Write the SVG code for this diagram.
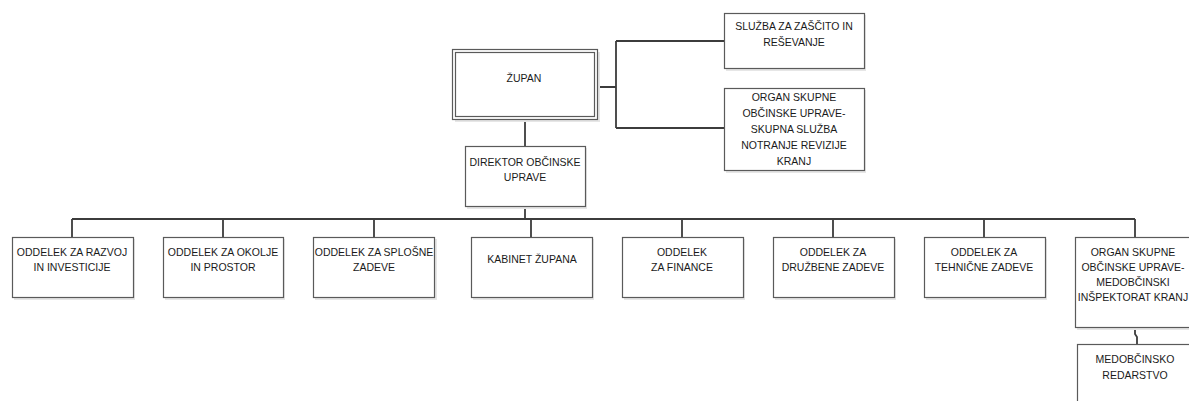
<svg xmlns="http://www.w3.org/2000/svg" width="1189" height="401" viewBox="0 0 1189 401">
<style>
.box{fill:#ffffff;stroke:#5a5a5a;stroke-width:1.2}
.sh{fill:#e6e6e6;stroke:none}
.t{font-family:"Liberation Sans",Arial,sans-serif;font-size:10.5px;fill:#1a1a1a;text-anchor:middle}
.c{fill:none;stroke:#3c3c3c;stroke-width:1.8}
</style>
<rect width="1189" height="401" fill="#ffffff"/>
<g id="connectors">
<path class="c" d="M597 87 H616 M616 41 V128 M616 41 H724 M616 128 H724"/>
<path class="c" d="M525 119 V146"/>
<path class="c" d="M525 206 V219 M72 219 H1135 M72 219 V237 M223 219 V237 M374 219 V237 M531 219 V237 M682 219 V237 M833 219 V237 M984 219 V237 M1135 219 V237"/>
<path class="c" d="M1135 327 V334 L1137 337 V344"/>
</g>
<g id="zupan">
<rect class="sh" x="455" y="52" width="145" height="70"/>
<rect class="box" x="452.5" y="49.5" width="145" height="70"/>
<rect class="box" x="455.5" y="52.5" width="139" height="64"/>
<text class="t" x="524" y="82">ŽUPAN</text>
</g>
<g id="sluzba">
<rect class="sh" x="726" y="15" width="140" height="56"/>
<rect class="box" x="724.5" y="13.5" width="140" height="55"/>
<text class="t" x="794" y="30">SLUŽBA ZA ZAŠČITO IN</text>
<text class="t" x="794" y="46">REŠEVANJE</text>
</g>
<g id="organ-revizija">
<rect class="sh" x="726" y="90" width="140" height="83"/>
<rect class="box" x="724.5" y="88.5" width="140" height="82"/>
<text class="t" x="794" y="101">ORGAN SKUPNE</text>
<text class="t" x="794" y="117">OBČINSKE UPRAVE-</text>
<text class="t" x="794" y="133">SKUPNA SLUŽBA</text>
<text class="t" x="794" y="149">NOTRANJE REVIZIJE</text>
<text class="t" x="794" y="165">KRANJ</text>
</g>
<g id="direktor">
<rect class="sh" x="467" y="148" width="120" height="61"/>
<rect class="box" x="465.5" y="146.5" width="120" height="60"/>
<text class="t" x="525" y="166">DIREKTOR OBČINSKE</text>
<text class="t" x="525" y="181">UPRAVE</text>
</g>
<g id="razvoj">
<rect class="sh" x="14" y="239" width="121" height="61"/>
<rect class="box" x="12.5" y="237.5" width="121" height="60"/>
<text class="t" x="72" y="256">ODDELEK ZA RAZVOJ</text>
<text class="t" x="72" y="271">IN INVESTICIJE</text>
</g>
<g id="okolje">
<rect class="sh" x="165" y="239" width="120" height="61"/>
<rect class="box" x="163.5" y="237.5" width="120" height="60"/>
<text class="t" x="223" y="256">ODDELEK ZA OKOLJE</text>
<text class="t" x="223" y="271">IN PROSTOR</text>
</g>
<g id="splosne">
<rect class="sh" x="315" y="239" width="122" height="61"/>
<rect class="box" x="313.5" y="237.5" width="121" height="60"/>
<text class="t" x="374" y="256">ODDELEK ZA SPLOŠNE</text>
<text class="t" x="374" y="271">ZADEVE</text>
</g>
<g id="kabinet">
<rect class="sh" x="473" y="239" width="121" height="61"/>
<rect class="box" x="471.5" y="237.5" width="121" height="60"/>
<text class="t" x="532" y="263">KABINET ŽUPANA</text>
</g>
<g id="finance">
<rect class="sh" x="624" y="239" width="121" height="61"/>
<rect class="box" x="622.5" y="237.5" width="121" height="60"/>
<text class="t" x="682" y="256">ODDELEK</text>
<text class="t" x="682" y="271">ZA FINANCE</text>
</g>
<g id="druzbene">
<rect class="sh" x="775" y="239" width="121" height="61"/>
<rect class="box" x="773.5" y="237.5" width="121" height="60"/>
<text class="t" x="833" y="256">ODDELEK ZA</text>
<text class="t" x="833" y="271">DRUŽBENE ZADEVE</text>
</g>
<g id="tehnicne">
<rect class="sh" x="926" y="239" width="121" height="61"/>
<rect class="box" x="924.5" y="237.5" width="121" height="60"/>
<text class="t" x="984" y="256">ODDELEK ZA</text>
<text class="t" x="984" y="271">TEHNIČNE ZADEVE</text>
</g>
<g id="organ-inspektorat">
<rect class="sh" x="1077" y="239" width="121" height="91"/>
<rect class="box" x="1075.5" y="237.5" width="121" height="90"/>
<text class="t" x="1133" y="256">ORGAN SKUPNE</text>
<text class="t" x="1133" y="271">OBČINSKE UPRAVE-</text>
<text class="t" x="1133" y="286">MEDOBČINSKI</text>
<text class="t" x="1133" y="301">INŠPEKTORAT KRANJ</text>
</g>
<g id="redarstvo">
<rect class="sh" x="1079" y="346" width="121" height="70"/>
<rect class="box" x="1077.5" y="344.5" width="121" height="70"/>
<text class="t" x="1135" y="363">MEDOBČINSKO</text>
<text class="t" x="1135" y="379">REDARSTVO</text>
</g>
</svg>
